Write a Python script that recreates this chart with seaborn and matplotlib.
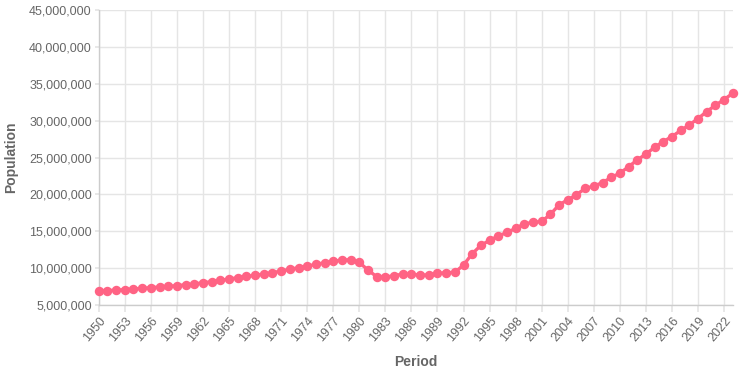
import matplotlib
matplotlib.use("Agg")
import matplotlib.pyplot as plt
from matplotlib.ticker import FuncFormatter
import numpy as np
import pandas as pd
import seaborn as sns


LINE_COLOR = "#ff6384"
TEXT_COLOR = "#666666"
GRID_COLOR = "#e5e5e5"

years = list(range(1950, 2024))
population = [
    6900000, 6940000, 7030000, 7070000, 7170000, 7260000, 7350000, 7440000,
    7530000, 7620000, 7750000, 7850000, 8020000, 8160000, 8340000, 8520000,
    8700000, 8880000, 9020000, 9200000, 9380000, 9610000, 9840000, 10060000,
    10280000, 10510000, 10730000, 10920000, 11100000, 11140000, 10780000, 9740000,
    8840000, 8790000, 8970000, 9200000, 9160000, 9070000, 9070000, 9290000,
    9380000, 9430000, 10420000, 11960000, 13090000, 13770000, 14350000, 14850000,
    15390000, 16020000, 16200000, 16340000, 17290000, 18590000, 19270000, 19950000,
    20810000, 21120000, 21600000, 22300000, 22890000, 23740000, 24690000, 25460000,
    26400000, 27170000, 27850000, 28670000, 29430000, 30290000, 31240000, 32090000,
    32870000, 33720000,
]
x_ticks = list(range(1950, 2023, 3))
y_ticks = list(range(5000000, 45000001, 5000000))

df = pd.DataFrame({"Period": years, "Population": population})

sns.set_theme(style="whitegrid")
plt.rcParams["font.family"] = ["Liberation Sans", "DejaVu Sans"]

fig = plt.figure(figsize=(7.39, 3.74), dpi=100)
ax = fig.add_axes([0.1336, 0.1845, 0.858, 0.7885])

sns.lineplot(
    data=df, x="Period", y="Population", ax=ax,
    color=LINE_COLOR, linewidth=2.4, marker="o", markersize=6.8,
    markeredgewidth=0, clip_on=False, zorder=3,
)

ax.set_xlim(1950, 2023)
ax.set_ylim(5000000, 45000000)
ax.set_xticks(x_ticks)
ax.set_yticks(y_ticks)
ax.yaxis.set_major_formatter(FuncFormatter(lambda v, _: f"{int(v):,}"))

ax.grid(True, color=GRID_COLOR, linewidth=1)
for side in ["top", "right"]:
    ax.spines[side].set_visible(False)
for side in ["left", "bottom"]:
    ax.spines[side].set_color("#cccccc")
    ax.spines[side].set_linewidth(1)

ax.tick_params(axis="x", length=5, color=GRID_COLOR, labelsize=9,
               labelcolor=TEXT_COLOR, pad=2, bottom=True)
ax.tick_params(axis="y", length=3, color=GRID_COLOR, labelsize=9,
               labelcolor=TEXT_COLOR, pad=2, left=True)
plt.setp(ax.get_xticklabels(), rotation=50, ha="right", rotation_mode="anchor")

ax.set_xlabel("Period", fontsize=10, fontweight="bold", color=TEXT_COLOR, labelpad=8)
ax.set_ylabel("Population", fontsize=10, fontweight="bold", color=TEXT_COLOR, labelpad=8)

fig.savefig("out.png", dpi=100)
